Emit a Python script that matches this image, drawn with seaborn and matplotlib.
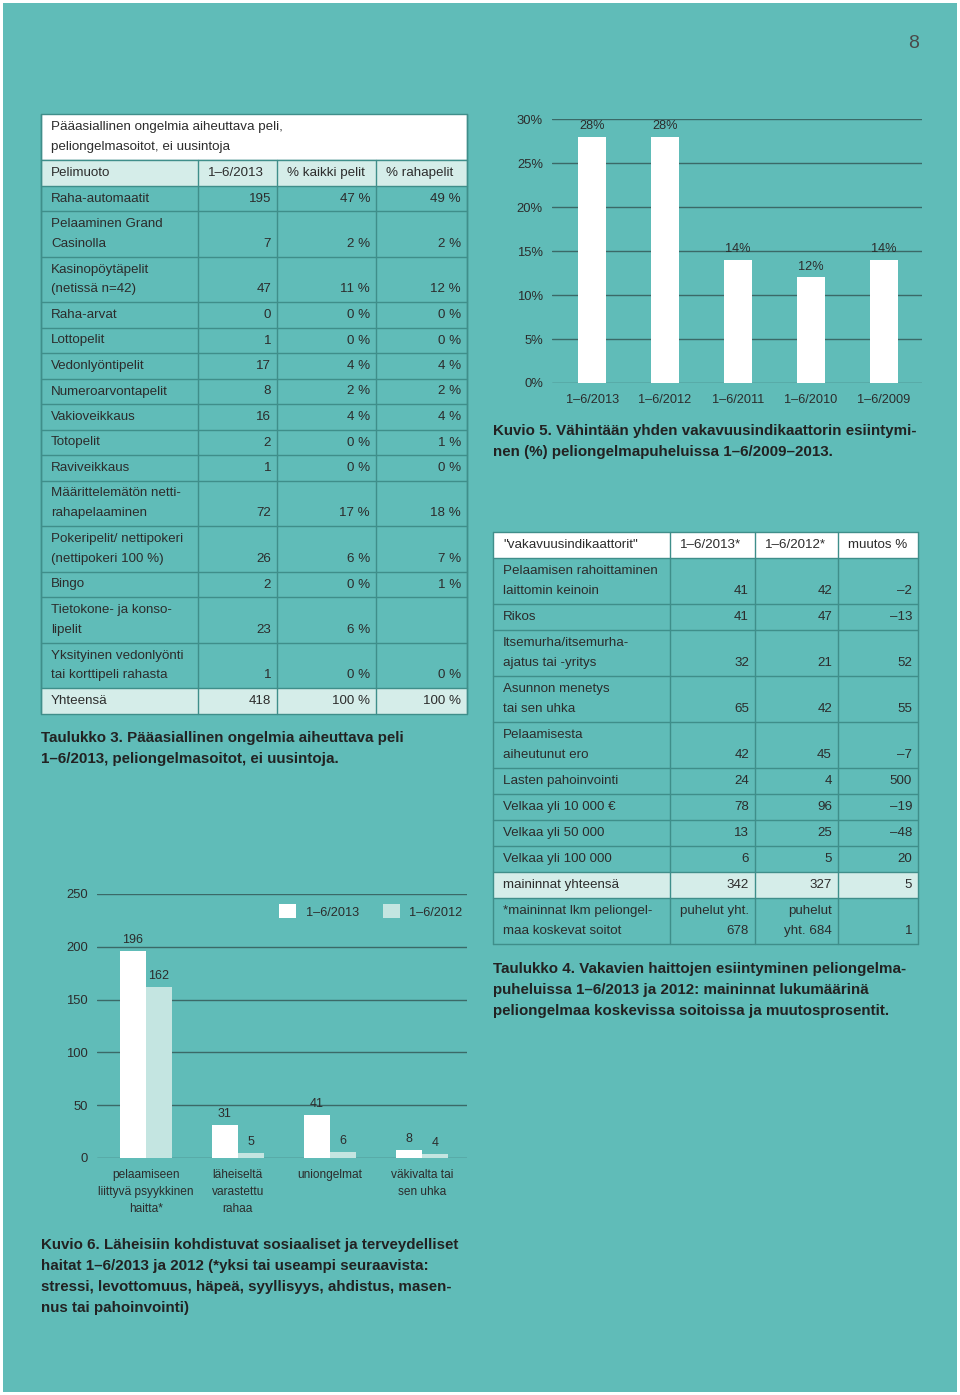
import pandas as pd
import matplotlib.pyplot as plt
from matplotlib.patches import Rectangle
import seaborn as sns

# ------------------------------------------
# DATA
# ------------------------------------------

# Taulukko 3
t3_title = ["Pääasiallinen ongelmia aiheuttava peli,", "peliongelmasoitot, ei uusintoja"]
t3_columns = ["Pelimuoto", "1–6/2013", "% kaikki pelit", "% rahapelit"]
t3_games = ["Raha-automaatit", "Pelaaminen Grand\nCasinolla", "Kasinopöytäpelit\n(netissä n=42)",
            "Raha-arvat", "Lottopelit", "Vedonlyöntipelit", "Numeroarvontapelit", "Vakioveikkaus",
            "Totopelit", "Raviveikkaus", "Määrittelemätön netti-\nrahapelaaminen",
            "Pokeripelit/ nettipokeri\n(nettipokeri 100 %)", "Bingo", "Tietokone- ja konso-\nlipelit",
            "Yksityinen vedonlyönti\ntai korttipeli rahasta"]
t3_counts = [195, 7, 47, 0, 1, 17, 8, 16, 2, 1, 72, 26, 2, 23, 1]
t3_pct_all = [47, 2, 11, 0, 0, 4, 2, 4, 0, 0, 17, 6, 0, 6, 0]
t3_pct_money = [49, 2, 12, 0, 0, 4, 2, 4, 1, 0, 18, 7, 1, None, 0]
t3_total = ["Yhteensä", 418, 100, 100]

# Kuvio 5
k5_periods = ["1–6/2013", "1–6/2012", "1–6/2011", "1–6/2010", "1–6/2009"]
k5_share = [28, 28, 14, 12, 14]

# Taulukko 4
t4_columns = ['"vakavuusindikaattorit"', "1–6/2013*", "1–6/2012*", "muutos %"]
t4_items = ["Pelaamisen rahoittaminen\nlaittomin keinoin", "Rikos", "Itsemurha/itsemurha-\najatus tai -yritys",
            "Asunnon menetys\ntai sen uhka", "Pelaamisesta\naiheutunut ero", "Lasten pahoinvointi",
            "Velkaa yli 10 000 €", "Velkaa yli 50 000", "Velkaa yli 100 000"]
t4_2013 = [41, 41, 32, 65, 42, 24, 78, 13, 6]
t4_2012 = [42, 47, 21, 42, 45, 4, 96, 25, 5]
t4_change = [-2, -13, 52, 55, -7, 500, -19, -48, 20]
t4_total = ["maininnat yhteensä", 342, 327, 5]
t4_note = ["*maininnat lkm peliongel-\nmaa koskevat soitot", "puhelut yht.\n678", "puhelut\nyht. 684", 1]

# Kuvio 6
k6_harms = ["pelaamiseen\nliittyvä psyykkinen\nhaitta*", "läheiseltä\nvarastettu\nrahaa",
            "uniongelmat", "väkivalta tai\nsen uhka"]
k6_periods = ["1–6/2013", "1–6/2012"]
k6_2013 = [196, 31, 41, 8]
k6_2012 = [162, 5, 6, 4]

# ------------------------------------------
# STYLE
# ------------------------------------------

TEAL = '#60bcb8'
LIGHT = '#d5ede9'
BAR12 = '#c4e5e1'
LINE = '#3f8e8a'
GRID = '#3b6967'
INK = '#2c2c2c'

sns.set_theme(style='white')
plt.rcParams['font.family'] = ['Liberation Sans', 'DejaVu Sans']

W, H = 960, 1395
fig = plt.figure(figsize=(W / 100, H / 100), dpi=100)

bg = fig.add_axes([0, 0, 1, 1], zorder=0)
bg.set_xlim(0, W)
bg.set_ylim(H, 0)
bg.axis('off')
bg.add_patch(Rectangle((3, 3), W - 6, H - 6, facecolor=TEAL, edgecolor='none'))
bg.text(914, 44, "8", fontsize=14, color='#4a4a4a', ha='center', va='center')


def fmt(v, pct=False):
    if v is None:
        return ""
    if isinstance(v, str):
        return v
    s = str(v).replace('-', '–')
    return s + " %" if pct else s


def draw_table(xs, top, rows, fills, aligns, single, double):
    y = top
    tops = []
    for row, fill, align in zip(rows, fills, aligns):
        nl = max(len(str(c).split('\n')) for c in row)
        h = single if nl == 1 else double
        bg.add_patch(Rectangle((xs[0], y), xs[-1] - xs[0], h, facecolor=fill, edgecolor='none'))
        for j, c in enumerate(row):
            lines = str(c).split('\n')
            for k, s in enumerate(lines):
                yy = y + 13 + 19.8 * (nl - len(lines) + k)
                if align == 'left' or j == 0:
                    bg.text(xs[j] + 10, yy, s, ha='left', va='center', fontsize=9.6, color=INK)
                else:
                    bg.text(xs[j + 1] - 6, yy, s, ha='right', va='center', fontsize=9.6, color=INK)
        tops.append(y)
        y += h
    for t in tops + [y]:
        bg.plot([xs[0], xs[-1]], [t, t], color=LINE, lw=1)
    for x in xs:
        bg.plot([x, x], [top, y], color=LINE, lw=1)
    return y


def caption(x, y, lines):
    for i, s in enumerate(lines):
        bg.text(x, y + 21 * i, s, fontsize=10.9, fontweight='bold', color='#222222', ha='left', va='center')


# ------------------------------------------
# TAULUKKO 3
# ------------------------------------------

t3_x = [41, 198, 277, 376, 467]
bg.add_patch(Rectangle((41, 114), 426, 46, facecolor='white', edgecolor=LINE, lw=1))
bg.text(51, 127, t3_title[0], fontsize=9.6, color=INK, va='center')
bg.text(51, 147, t3_title[1], fontsize=9.6, color=INK, va='center')

rows3 = [t3_columns]
for g, c, a, m in zip(t3_games, t3_counts, t3_pct_all, t3_pct_money):
    rows3.append([g, fmt(c), fmt(a, True), fmt(m, True)])
rows3.append([t3_total[0], fmt(t3_total[1]), fmt(t3_total[2], True), fmt(t3_total[3], True)])
fills3 = [LIGHT] + [TEAL] * len(t3_games) + [LIGHT]
aligns3 = ['left'] + ['right'] * (len(t3_games) + 1)
draw_table(t3_x, 160, rows3, fills3, aligns3, 25.5, 45.5)
bg.plot([41, 41], [114, 713], color=LINE, lw=1)
bg.plot([467, 467], [114, 713], color=LINE, lw=1)

caption(41, 738, ["Taulukko 3. Pääasiallinen ongelmia aiheuttava peli",
                  "1–6/2013, peliongelmasoitot, ei uusintoja."])

# ------------------------------------------
# TAULUKKO 4
# ------------------------------------------

t4_x = [493, 670, 755, 838, 918]
rows4 = [t4_columns]
for it, a, b, c in zip(t4_items, t4_2013, t4_2012, t4_change):
    rows4.append([it, fmt(a), fmt(b), fmt(c)])
rows4.append([fmt(v) for v in t4_total])
rows4.append([fmt(v) for v in t4_note])
fills4 = ['white'] + [TEAL] * len(t4_items) + [LIGHT, TEAL]
aligns4 = ['left'] + ['right'] * (len(t4_items) + 2)
draw_table(t4_x, 532, rows4, fills4, aligns4, 26, 46)

caption(493, 969, ["Taulukko 4. Vakavien haittojen esiintyminen peliongelma-",
                   "puheluissa 1–6/2013 ja 2012: maininnat lukumäärinä",
                   "peliongelmaa koskevissa soitoissa ja muutosprosentit."])


# ------------------------------------------
# CHARTS
# ------------------------------------------

def px_axes(l, t, r, b):
    a = fig.add_axes([l / W, 1 - b / H, (r - l) / W, (b - t) / H], zorder=2)
    a.set_facecolor('none')
    return a


def style_axes(a):
    for sp in a.spines.values():
        sp.set_visible(False)
    a.yaxis.grid(True, color=GRID, lw=1)
    a.xaxis.grid(False)
    a.set_axisbelow(True)
    a.set_xlabel('')
    a.set_ylabel('')


# Kuvio 5
ax5 = px_axes(552, 119, 922, 383)
sns.barplot(x=k5_periods, y=k5_share, color='white', saturation=1, width=0.38,
            linewidth=0, ax=ax5)
style_axes(ax5)
ax5.set_ylim(0, 30)
ax5.set_xlim(-0.55, 4.52)
ax5.set_yticks(range(0, 31, 5))
ax5.set_yticklabels([f"{v}%" for v in range(0, 31, 5)])
ax5.tick_params(axis='y', length=0, pad=6.5, labelsize=9.4, labelcolor=INK)
ax5.tick_params(axis='x', length=0, pad=8, labelsize=9.2, labelcolor=INK)
ax5.bar_label(ax5.containers[0], labels=[f"{v}%" for v in k5_share], padding=3.5,
              fontsize=9.2, color=INK)

caption(493, 431, ["Kuvio 5. Vähintään yhden vakavuusindikaattorin esiintymi-",
                   "nen (%) peliongelmapuheluissa 1–6/2009–2013."])

# Kuvio 6
df6 = pd.DataFrame({
    'harm': k6_harms * 2,
    'period': [k6_periods[0]] * len(k6_harms) + [k6_periods[1]] * len(k6_harms),
    'count': k6_2013 + k6_2012,
})
ax6 = px_axes(97, 894, 467, 1158)
sns.barplot(data=df6, x='harm', y='count', hue='period', palette=['white', BAR12],
            saturation=1, width=0.565, gap=0, linewidth=0, ax=ax6)
style_axes(ax6)
ax6.set_ylim(0, 250)
ax6.set_xlim(-0.53, 3.49)
ax6.set_yticks(range(0, 251, 50))
ax6.set_xticks(range(len(k6_harms)))
ax6.set_xticklabels(k6_harms, linespacing=1.55)
ax6.tick_params(axis='y', length=0, pad=6.5, labelsize=9.4, labelcolor=INK)
ax6.tick_params(axis='x', length=0, pad=8, labelsize=8.6, labelcolor=INK)
for cont, vals in zip(ax6.containers, [k6_2013, k6_2012]):
    ax6.bar_label(cont, labels=[str(v) for v in vals], padding=3.5, fontsize=9, color=INK)

handles, labels = ax6.get_legend_handles_labels()
ax6.legend(handles, labels, loc='upper left', bbox_to_anchor=(273 / W, 1 - 898 / H),
           bbox_transform=fig.transFigure, ncol=2, frameon=False, borderpad=0,
           handlelength=1.3, handleheight=1.3, handletextpad=0.75, columnspacing=1.9,
           fontsize=9.2, labelcolor=INK)

caption(41, 1245, ["Kuvio 6. Läheisiin kohdistuvat sosiaaliset ja terveydelliset",
                   "haitat 1–6/2013 ja 2012 (*yksi tai useampi seuraavista:",
                   "stressi, levottomuus, häpeä, syyllisyys, ahdistus, masen-",
                   "nus tai pahoinvointi)"])

fig.savefig("out.png", dpi=100, facecolor='white')
